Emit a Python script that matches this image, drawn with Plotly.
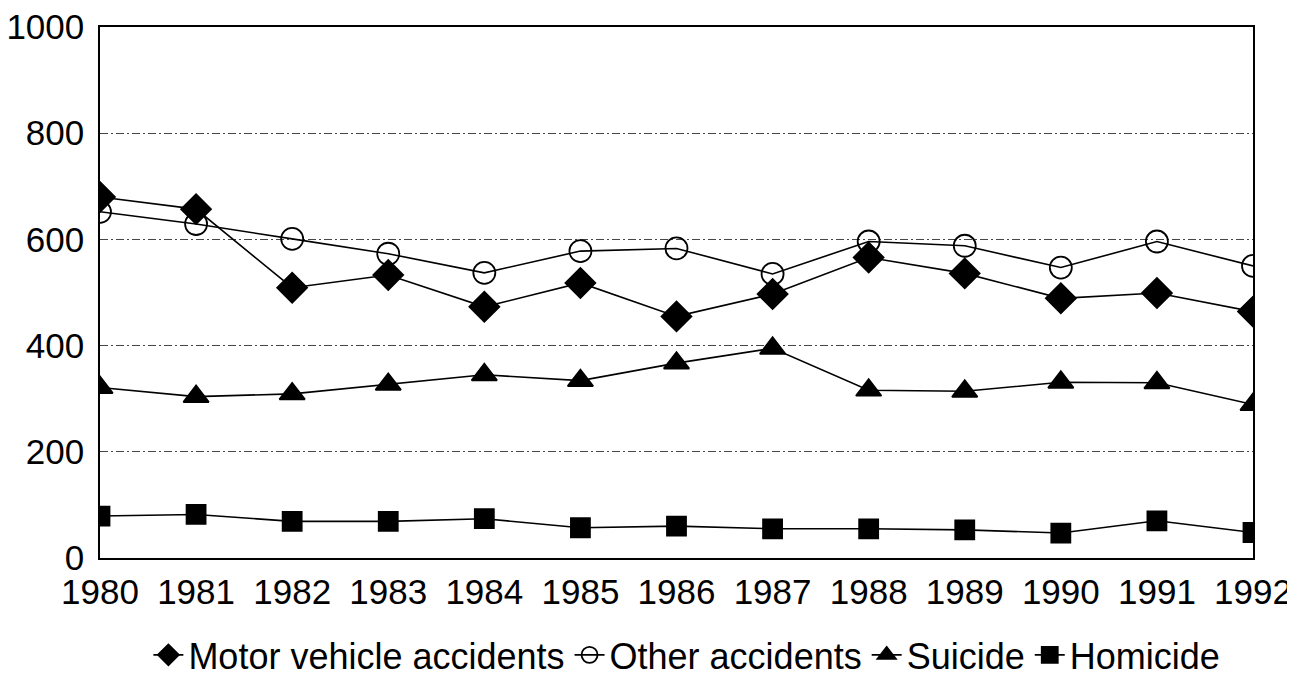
import plotly.graph_objects as go

years = [1980, 1981, 1982, 1983, 1984, 1985, 1986, 1987, 1988, 1989, 1990, 1991, 1992]
motor_vehicle = [680, 657, 509, 533, 473, 518, 455, 497, 566, 536, 489, 499, 464]
other_accidents = [652, 629, 601, 573, 537, 578, 583, 535, 596, 588, 547, 596, 550]
suicide = [321, 304, 309, 327, 345, 334, 367, 395, 316, 314, 331, 330, 289]
homicide = [79, 82, 69, 69, 74, 57, 60, 55, 55, 53, 47, 70, 48]

y_ticks = [0, 200, 400, 600, 800, 1000]

series = [
    ("Motor vehicle accidents", motor_vehicle, "diamond", 23),
    ("Other accidents", other_accidents, "circle-open", 22),
    ("Suicide", suicide, "triangle-up", 22),
    ("Homicide", homicide, "square", 19),
]

fig = go.Figure()
for name, vals, sym, size in series:
    fig.add_trace(go.Scatter(
        x=years, y=vals, name=name, mode="lines+markers",
        line=dict(color="black", width=1.6),
        marker=dict(symbol=sym, size=size, color="black",
                    line=dict(color="black", width=1.8)),
    ))

font_family = "Liberation Sans, Arial, sans-serif"
fig.update_layout(
    width=1295, height=689,
    margin=dict(l=92, r=50, t=19, b=139, autoexpand=False),
    paper_bgcolor="white", plot_bgcolor="white",
    font=dict(family=font_family, color="black", size=34),
    showlegend=True,
    legend=dict(orientation="h", x=0.509, xanchor="center", yref="container",
                y=0.061, yanchor="middle", font=dict(size=36),
                itemwidth=30, tracegroupgap=0, bgcolor="rgba(0,0,0,0)"),
    xaxis=dict(range=[1980, 1992], tickmode="array", tickvals=years,
               ticktext=[str(y) for y in years], automargin=False,
               showgrid=False, zeroline=False, ticklabeloverflow="allow",
               showline=True, linecolor="black", linewidth=1.5, mirror=True,
               ticks="", tickfont=dict(size=35), ticklabelstandoff=2),
    yaxis=dict(range=[0, 1000], tickmode="array", tickvals=y_ticks, automargin=False,
               showgrid=True, gridcolor="#444", gridwidth=1, griddash="8px,3px,2px,3px",
               zeroline=False, ticklabeloverflow="allow",
               showline=True, linecolor="black", linewidth=1.5, mirror=True,
               ticks="", tickfont=dict(size=35), ticklabelstandoff=7),
)

fig.write_html("out.html")
